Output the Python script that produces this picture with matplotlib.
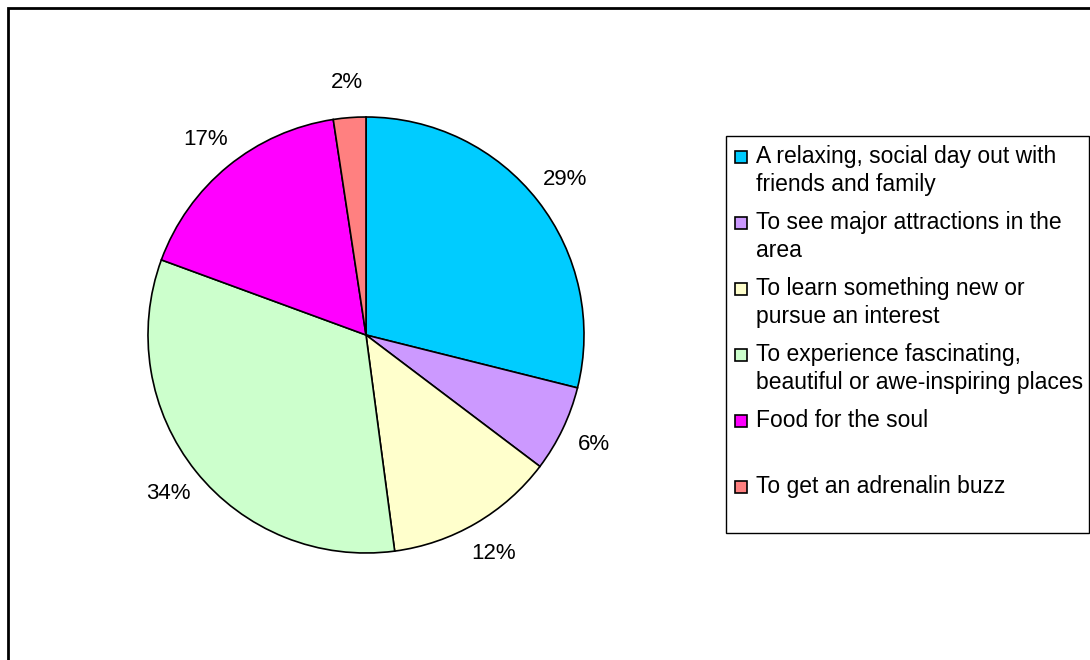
import matplotlib.pyplot as plt
from matplotlib.patches import Rectangle

plt.rcParams['font.family'] = ['Liberation Sans', 'DejaVu Sans']

labels = ["A relaxing, social day out with\nfriends and family",
          "To see major attractions in the\narea",
          "To learn something new or\npursue an interest",
          "To experience fascinating,\nbeautiful or awe-inspiring places",
          "Food for the soul",
          "To get an adrenalin buzz"]
values = [28.9, 6.4, 12.6, 32.7, 17.0, 2.4]
# percentage labels as printed on the chart
pct_labels = ["29%", "6%", "12%", "34%", "17%", "2%"]
colors = ["#00CCFF", "#CC99FF", "#FFFFCC", "#CCFFCC", "#FF00FF", "#FF8080"]

W, H = 1090, 660
fig = plt.figure(figsize=(W / 100, H / 100), dpi=100)

# pie axes: centre at (366, 335) px, radius 218 px
R = 218
cx, cy = 366, 335
side = 2 * R * 1.5
ax = fig.add_axes([(cx - side / 2) / W, (H - cy - side / 2) / H, side / W, side / H])
wedges, texts = ax.pie(values, labels=pct_labels, colors=colors, startangle=90,
                       counterclock=False, labeldistance=1.16,
                       wedgeprops=dict(edgecolor="black", linewidth=1.2),
                       textprops=dict(fontsize=16))
for t in texts:
    t.set_ha("center")
    t.set_va("center")
ax.set_xlim(-1.5, 1.5)
ax.set_ylim(-1.5, 1.5)
ax.set_aspect("equal")
ax.axis("off")

# outer frame
fig.add_artist(Rectangle((8 / W, -0.1), 1.2, 1.1 - 8 / H, transform=fig.transFigure,
                         fill=False, edgecolor="black", linewidth=2))

# legend box
lx0, ly0, lx1, ly1 = 726, 136, 1089, 533
fig.add_artist(Rectangle((lx0 / W, 1 - ly1 / H), (lx1 - lx0) / W, (ly1 - ly0) / H,
                         transform=fig.transFigure, fill=False, edgecolor="black", linewidth=1))
for i, (lab, col) in enumerate(zip(labels, colors)):
    base = 163 + i * 66
    fig.add_artist(Rectangle((735 / W, 1 - base / H), 12 / W, 12 / H,
                             transform=fig.transFigure, facecolor=col, edgecolor="black", linewidth=1.2))
    for j, line in enumerate(lab.split("\n")):
        fig.text(756 / W, 1 - (base + j * 28) / H, line, fontsize=16.5,
                 va="baseline", ha="left")

fig.savefig("out.png", dpi=100)
